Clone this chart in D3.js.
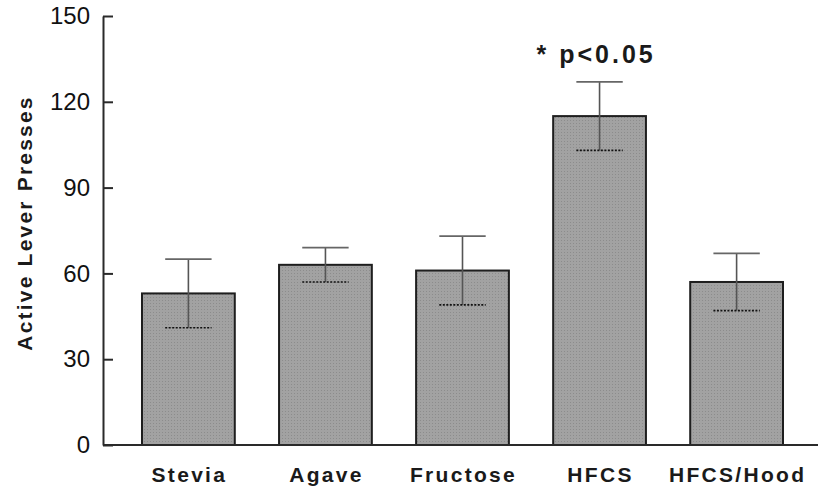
<!DOCTYPE html>
<html>
<head>
	<meta charset="utf-8">
	<title>Active Lever Presses</title>
	<style>
	body { margin: 0; background: #fff; }
	svg { display: block; font-family: 'Liberation Sans', Arial, sans-serif; }
	</style>
	<script src="https://cdn.jsdelivr.net/npm/d3@7/dist/d3.min.js"></script>
</head>
<body>
	<script>
		// data
		let categories = ['Stevia', 'Agave', 'Fructose', 'HFCS', 'HFCS/Hood'];
		let means = [53, 63, 61, 115, 57];
		let sem = [12, 6, 12, 12, 10];
		let yTicks = [0, 30, 60, 90, 120, 150];

		let W = 820, H = 491;
		let axisX = 103, yBottom = 445, yTop = 16;

		let svg = d3.select('body').append('svg')
			.attr('width', W).attr('height', H);

		// stipple fill for the bars
		let pat = svg.append('defs').append('pattern')
			.attr('id', 'stip').attr('patternUnits', 'userSpaceOnUse')
			.attr('width', 3).attr('height', 3);
		pat.append('rect').attr('width', 3).attr('height', 3).attr('fill', '#a2a2a2');
		pat.append('rect').attr('width', 1).attr('height', 1).attr('fill', '#8c8c8c');

		let y = d3.scaleLinear().domain([0, 150]).range([yBottom, yTop]);
		let x = d3.scaleBand().domain(categories)
			.range([142, 783]).paddingInner(0.323).paddingOuter(0);

		// y axis, ticks pointing inward
		let yAxis = svg.append('g')
			.attr('transform', 'translate(' + axisX + ',0)')
			.call(d3.axisLeft(y).tickValues(yTicks).tickSizeInner(-10).tickSizeOuter(0).tickPadding(13));
		yAxis.select('.domain').attr('stroke', '#2a2a2a').attr('stroke-width', 2);
		yAxis.selectAll('.tick line').attr('stroke', '#2a2a2a').attr('stroke-width', 2);
		yAxis.selectAll('.tick text')
			.attr('font-size', '24px')
			.attr('fill', '#111')
			.attr('font-family', "'Liberation Sans', Arial, sans-serif");

		// y axis title
		svg.append('text')
			.attr('transform', 'translate(32,' + 223 + ') rotate(-90)')
			.attr('text-anchor', 'middle')
			.attr('font-size', '21px')
			.attr('font-weight', 'bold')
			.attr('letter-spacing', '2.2px')
			.attr('fill', '#1a1a1a')
			.text('Active Lever Presses');

		// bars
		svg.selectAll('rect.bar').data(categories).enter().append('rect')
			.attr('class', 'bar')
			.attr('x', function(d) { return x(d); })
			.attr('y', function(d, i) { return y(means[i]); })
			.attr('width', x.bandwidth())
			.attr('height', function(d, i) { return y(0) - y(means[i]); })
			.attr('fill', 'url(#stip)')
			.attr('stroke', '#1e1e1e')
			.attr('stroke-width', 2);

		// error bars: line from upper to lower, cap on top, dotted lower mark
		let cap = x.bandwidth() / 4;
		let err = svg.selectAll('g.err').data(categories).enter().append('g')
			.attr('class', 'err')
			.attr('transform', function(d) { return 'translate(' + (x(d) + x.bandwidth() / 2) + ',0)'; });

		err.append('line')
			.attr('x1', 0).attr('x2', 0)
			.attr('y1', function(d, i) { return y(means[i] + sem[i]); })
			.attr('y2', function(d, i) { return y(means[i] - sem[i]); })
			.attr('stroke', '#555').attr('stroke-width', 1.6);

		err.append('line')
			.attr('x1', -cap).attr('x2', cap)
			.attr('y1', function(d, i) { return y(means[i] + sem[i]); })
			.attr('y2', function(d, i) { return y(means[i] + sem[i]); })
			.attr('stroke', '#666').attr('stroke-width', 1.8);

		err.append('line')
			.attr('x1', -cap).attr('x2', cap)
			.attr('y1', function(d, i) { return y(means[i] - sem[i]); })
			.attr('y2', function(d, i) { return y(means[i] - sem[i]); })
			.attr('stroke', '#111').attr('stroke-width', 1.6)
			.attr('stroke-dasharray', '2,1.5');

		// x axis line
		svg.append('line')
			.attr('x1', axisX).attr('x2', 818)
			.attr('y1', y(0)).attr('y2', y(0))
			.attr('stroke', '#2a2a2a').attr('stroke-width', 2);

		// category labels
		svg.selectAll('text.cat').data(categories).enter().append('text')
			.attr('class', 'cat')
			.attr('x', function(d) { return x(d) + x.bandwidth() / 2 + 1; })
			.attr('y', 482)
			.attr('text-anchor', 'middle')
			.attr('font-size', '21px')
			.attr('font-weight', 'bold')
			.attr('letter-spacing', '2.3px')
			.attr('fill', '#1a1a1a')
			.text(function(d) { return d; });

		// significance note above HFCS
		svg.append('text')
			.attr('x', x('HFCS') + x.bandwidth() / 2 - 63)
			.attr('y', 63)
			.attr('font-size', '25px')
			.attr('font-weight', 'bold')
			.attr('letter-spacing', '3px')
			.attr('fill', '#1a1a1a')
			.text('* p<0.05');
	</script>
</body>
</html>
